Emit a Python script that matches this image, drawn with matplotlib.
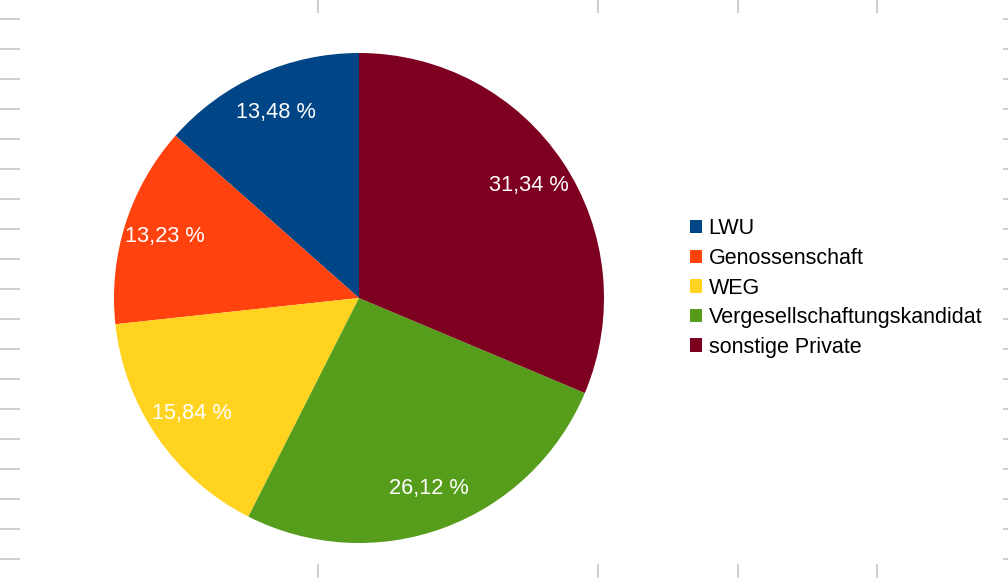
import matplotlib
matplotlib.use('Agg')
import matplotlib.pyplot as plt

plt.rcParams['font.family'] = ['Liberation Sans', 'DejaVu Sans']

# data
labels = ['LWU', 'Genossenschaft', 'WEG', 'Vergesellschaftungskandidat', 'sonstige Private']
shares = [13.48, 13.23, 15.84, 26.12, 31.34]
colors = ['#004586', '#ff420e', '#ffd320', '#579d1c', '#7e0021']

W, H = 1008, 578
fig = plt.figure(figsize=(W / 100, H / 100), dpi=100)
ax = fig.add_axes([0, 0, 1, 1])
ax.set_xlim(0, W)
ax.set_ylim(0, H)
ax.set_aspect('equal')
ax.axis('off')

# faint page-break marks on the edges
mark = dict(color='#c8c8c8', lw=1.2, solid_capstyle='butt')
for y in range(19, H, 30):
    ax.plot([0, 20], [H - y, H - y], **mark)
    ax.plot([1003, W], [H - y, H - y], **mark)
for x in [318, 598, 738, 877]:
    ax.plot([x, x], [H, H - 13], **mark)
    ax.plot([x, x], [0, 14], **mark)

pct_text = iter([f'{v:.2f} %'.replace('.', ',') for v in shares])
wedges, texts, autotexts = ax.pie(
    shares, colors=colors, startangle=90, counterclock=True,
    center=(359, H - 298), radius=245,
    autopct=lambda p: next(pct_text), pctdistance=0.83,
    wedgeprops=dict(linewidth=0), textprops=dict(color='white', fontsize=15.7))
ax.set_xlim(0, W)
ax.set_ylim(0, H)

leg = ax.legend(wedges, labels, loc='center left', bbox_to_anchor=(690, H - 288),
                bbox_transform=ax.transData, frameon=False, fontsize=15.5,
                handlelength=0.57, handleheight=0.57, handletextpad=0.3,
                labelspacing=0.4, borderpad=0, borderaxespad=0)

fig.savefig('out.png', dpi=100)
